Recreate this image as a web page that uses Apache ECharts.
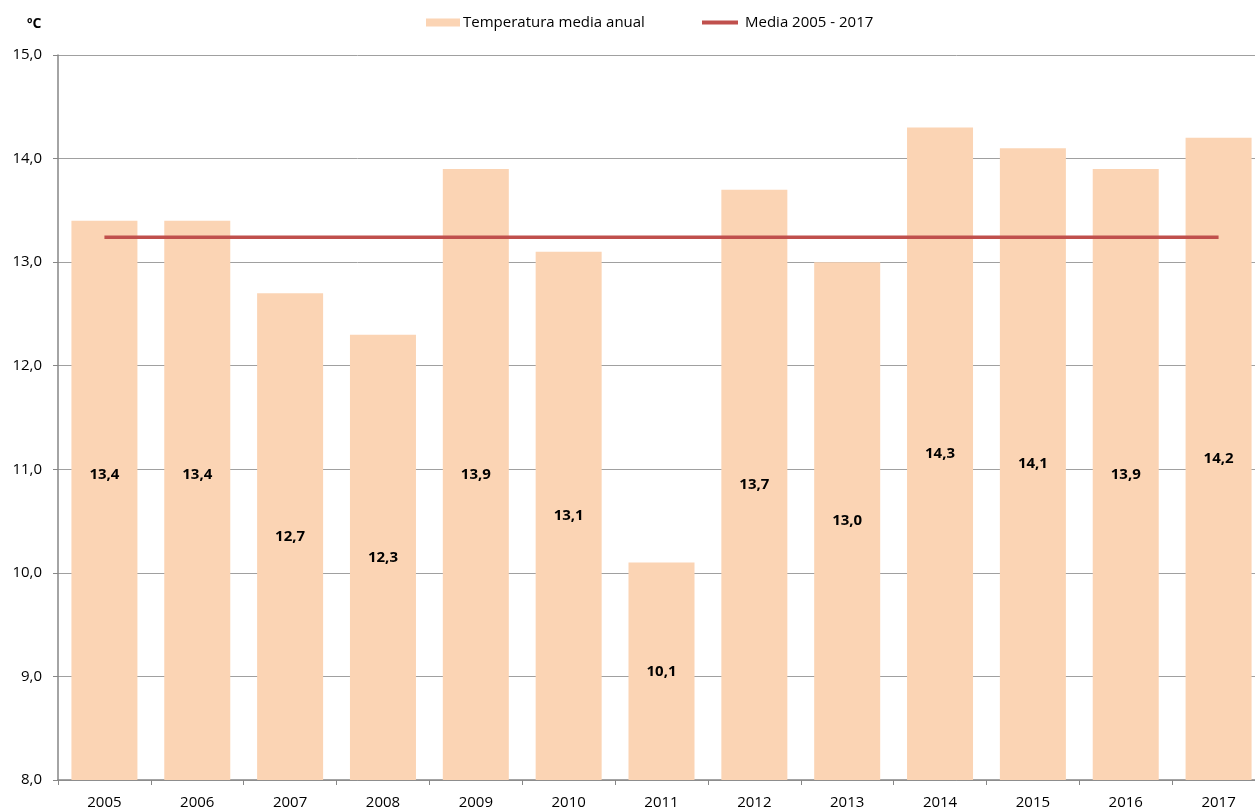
<!DOCTYPE html>
<html lang="es">
<head>
  <meta charset="UTF-8">
  <title>Temperatura media anual</title>
  <style>
    html, body { margin: 0; padding: 0; background: #fff; }
    #chart { width: 1255px; height: 810px; }
  </style>
</head>
<body>
  <div id="chart"></div>
  <script src="https://cdn.jsdelivr.net/npm/echarts@6/dist/echarts.min.js"></script>
  <script>
    const years = ['2005', '2006', '2007', '2008', '2009', '2010', '2011', '2012', '2013', '2014', '2015', '2016', '2017'];
    const temperatures = [13.4, 13.4, 12.7, 12.3, 13.9, 13.1, 10.1, 13.7, 13.0, 14.3, 14.1, 13.9, 14.2];
    const mediaValues = [13.24, 13.24, 13.24, 13.24, 13.24, 13.24, 13.24, 13.24, 13.24, 13.24, 13.24, 13.24, 13.24];

    const font = '"Open Sans", Lato, sans-serif';
    const fmt = v => Number(v).toFixed(1).replace('.', ',');

    // labels of the first two bars sit a bit higher in the original
    const labelShift = { 0: -26, 1: -26 };

    const chart = echarts.init(document.getElementById('chart'));
    chart.setOption({
      animation: false,
      title: {
        text: 'ºC',
        left: 22,
        top: 12,
        textStyle: { fontFamily: font, fontSize: 14, fontWeight: 'bold', color: '#000' }
      },
      legend: [
        {
          data: ['Temperatura media anual'],
          left: 426,
          top: 15,
          padding: 0,
          itemWidth: 34,
          itemHeight: 8,
          icon: 'rect',
          textStyle: { fontFamily: font, fontSize: 15, color: '#000', padding: [0, 0, 0, -2] }
        },
        {
          data: ['Media 2005 - 2017'],
          left: 702,
          top: 15,
          padding: 0,
          itemWidth: 36,
          itemHeight: 4,
          icon: 'rect',
          textStyle: { fontFamily: font, fontSize: 15, color: '#000', padding: [0, 0, 0, 2] }
        }
      ],
      grid: { left: 58, top: 55, width: 1207, height: 725, outerBoundsMode: 'none', containLabel: false },
      xAxis: {
        type: 'category',
        data: years,
        boundaryGap: true,
        axisLine: { lineStyle: { color: '#868686', width: 1.5 } },
        axisTick: { show: true, length: 5, lineStyle: { color: '#868686' } },
        axisLabel: { fontFamily: font, fontSize: 15, color: '#000', margin: 15 }
      },
      yAxis: {
        type: 'value',
        min: 8,
        max: 15,
        interval: 1,
        axisLine: { show: true, lineStyle: { color: '#868686', width: 1.5 } },
        axisTick: { show: true, length: 5, lineStyle: { color: '#868686' } },
        axisLabel: { fontFamily: font, fontSize: 15, color: '#000', margin: 16, formatter: fmt },
        splitLine: { lineStyle: { color: '#a0a0a0', width: 1 } }
      },
      series: [
        {
          name: 'Temperatura media anual',
          type: 'bar',
          barWidth: 66,
          itemStyle: { color: '#fbd4b4' },
          data: temperatures.map((v, i) => ({
            value: v,
            label: labelShift[i] ? { offset: [0, labelShift[i]] } : undefined
          })),
          label: {
            show: true,
            position: 'inside',
            fontFamily: font,
            fontSize: 15,
            fontWeight: 'bold',
            color: '#000',
            formatter: p => fmt(p.value)
          }
        },
        {
          name: 'Media 2005 - 2017',
          type: 'line',
          data: mediaValues,
          symbol: 'none',
          z: 3,
          lineStyle: { color: '#c0504d', width: 3.5 },
          itemStyle: { color: '#c0504d' }
        }
      ]
    });
  </script>
</body>
</html>
